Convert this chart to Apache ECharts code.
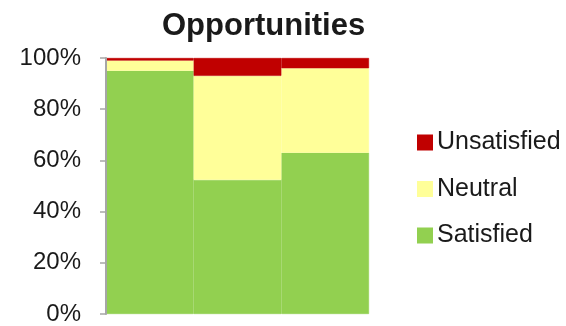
<!DOCTYPE html>
<html>
<head>
<meta charset="utf-8">
<script src="https://cdn.jsdelivr.net/npm/echarts@6/dist/echarts.min.js"></script>
<style>
	html, body { margin: 0; padding: 0; background: #fff; }
	#main_chart { width: 566px; height: 326px; }
</style>
</head>
<body>
<div id="main_chart"></div>
<script>
var categories = ["A", "B", "C"];
var satisfied = [95, 52.4, 63];
var neutral = [4, 40.6, 33];
var unsatisfied = [1, 7, 4];
var tickLabels = ["0%", "20%", "40%", "60%", "80%", "100%"];

makeChart();

function makeChart() {
	var chart_do = document.getElementById('main_chart');
	var chart = echarts.init(chart_do, null, { renderer: 'canvas' });

	var font = 'Liberation Sans, Arial, sans-serif';

	// bar style, border in same colour hides the seams between bars
	function barStyle(c) {
		return { color: c, borderColor: c, borderWidth: 0.6 };
	}

	var option = {
		animation: false,
		title: {
			text: 'Opportunities',
			left: 157,
			top: 6,
			textStyle: {
				fontFamily: font,
				fontSize: 31,
				fontWeight: 'bold',
				color: '#1a1a1a'
			}
		},
		legend: {
			orient: 'vertical',
			left: 412,
			top: 125,
			icon: 'rect',
			itemWidth: 14,
			itemHeight: 14,
			itemGap: 21.5,
			data: ['Unsatisfied', 'Neutral', 'Satisfied'],
			textStyle: {
				fontFamily: font,
				fontSize: 25,
				lineHeight: 24,
				color: '#1a1a1a'
			}
		},
		grid: {
			left: 106,
			top: 58,
			width: 263,
			height: 258
		},
		xAxis: {
			type: 'category',
			data: categories,
			axisLine: { show: false },
			axisTick: { show: false },
			axisLabel: { show: false }
		},
		yAxis: {
			type: 'value',
			z: 5,
			min: 0,
			max: 100,
			interval: 20,
			splitLine: { show: false },
			axisLine: {
				show: true,
				lineStyle: { color: '#a6a6a6', width: 2 }
			},
			axisTick: {
				show: true,
				length: 6,
				lineStyle: { color: '#a6a6a6', width: 1.5 }
			},
			axisLabel: {
				margin: 25,
				fontFamily: font,
				fontSize: 24,
				color: '#1a1a1a',
				formatter: function(v) {
					return tickLabels[Math.round(v / 20)];
				}
			}
		},
		series: [{
			name: 'Satisfied',
			type: 'bar',
			stack: 'all',
			barCategoryGap: 0,
			itemStyle: barStyle('#92d050'),
			data: satisfied
		}, {
			name: 'Neutral',
			type: 'bar',
			stack: 'all',
			barCategoryGap: 0,
			itemStyle: barStyle('#ffff99'),
			data: neutral
		}, {
			name: 'Unsatisfied',
			type: 'bar',
			stack: 'all',
			barCategoryGap: 0,
			itemStyle: barStyle('#c00000'),
			data: unsatisfied
		}]
	};

	chart.setOption(option);
}
</script>
</body>
</html>
